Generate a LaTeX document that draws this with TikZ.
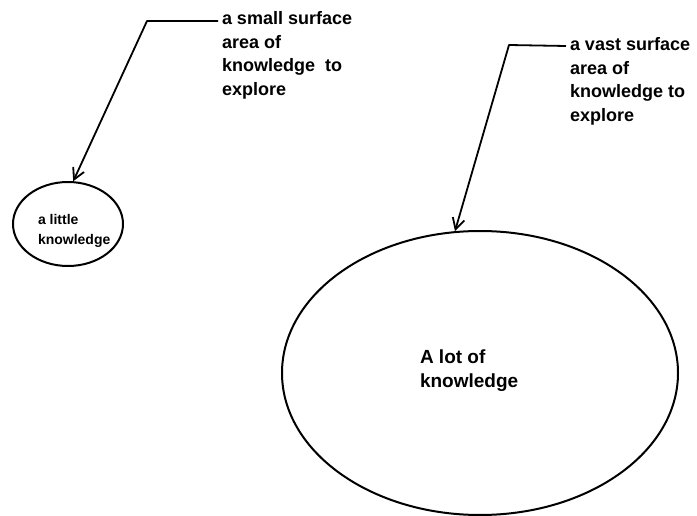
\documentclass[tikz,border=0pt]{standalone}
\usepackage{fontspec}
\newfontfamily\hv{Liberation Sans}
\usetikzlibrary{shapes.geometric,arrows.meta}
\tikzset{
  lbl/.style={anchor=base west, inner sep=0pt, outer sep=0pt, align=left},
  ell/.style={draw, ellipse, line width=2pt, inner sep=0pt},
  lead/.style={line width=1.8pt, line join=round},
  ptr/.style={lead, -{Straight Barb[length=11pt,width=12pt,line width=1.8pt]}},
}
\newcommand{\lines}[1]{\begin{tabular}[t]{@{}l@{}}#1\end{tabular}}
\begin{document}
\begin{tikzpicture}[x=1pt,y=-1pt]
  \useasboundingbox (0,0) rectangle (697,516);
  % small
  \node[ell, minimum width=110pt, minimum height=84pt] (small) at (68,224) {};
  \node[lbl, font=\hv\bfseries\fontsize{14}{20}\selectfont] (smalltxt) at (38,225) {\lines{a little\\knowledge}};
  \node[lbl, font=\hv\bfseries\fontsize{18}{23.5}\selectfont] (smalllab) at (222,25) {\lines{a small surface\\area of\\knowledge\ \ to\\explore}};
  \coordinate (sbend) at (147,21);
  \draw[ptr] ([shift={(-4,-4)}]smalllab.base west) -- (sbend) -- (small.83);
  % big
  \node[ell, minimum width=396pt, minimum height=284pt] (big) at (480,373) {};
  \node[lbl, font=\hv\bfseries\fontsize{19}{24}\selectfont] (bigtxt) at (420,363) {\lines{A lot of\\knowledge}};
  \node[lbl, font=\hv\bfseries\fontsize{18}{23.5}\selectfont] (biglab) at (570,51) {\lines{a vast surface\\area of\\knowledge to\\explore}};
  \coordinate (bbend) at (509,45);
  \draw[ptr] ([shift={(-4,-5)}]biglab.base west) -- (bbend) -- (big.100);
\end{tikzpicture}
\end{document}
